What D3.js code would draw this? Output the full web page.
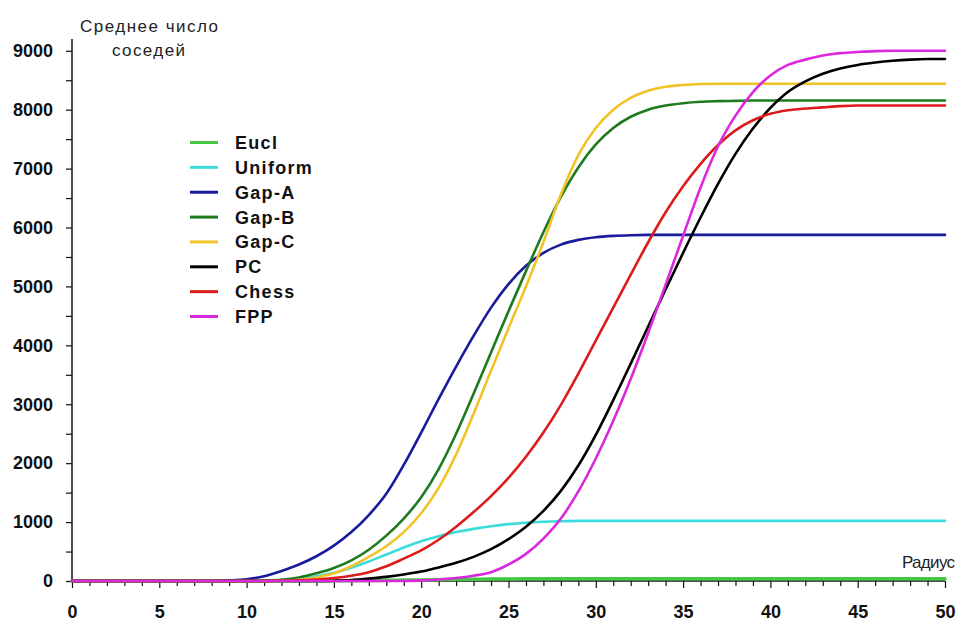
<!DOCTYPE html>
<html>
<head>
<meta charset="utf-8">
<script src="https://cdn.jsdelivr.net/npm/d3@7"></script>
<style>
  html, body { margin: 0; padding: 0; background: #fff; }
  svg { display: block; }
  text { font-family: "Liberation Sans", Arial, sans-serif; }
</style>
</head>
<body>
<svg id="chart" width="968" height="621"></svg>
<script>
// ---- data ----
const radii = d3.range(0, 51);
const seriesNames = ["Eucl", "Uniform", "Gap-A", "Gap-B", "Gap-C", "PC", "Chess", "FPP"];
const seriesColors = ["#44c844", "#3ddcdc", "#1a1a9c", "#1e7a1e", "#f0c428", "#000000", "#dc1c1c", "#dc28dc"];

const eucl = [0,0,0,0,0,0,0,0,0,0, 0,0,0,0,0,3,5,8,11,15, 19,23,27,30,33,35,37,38,39,40,
  40,40,40,40,40,40,40,40,40,40, 40,40,40,40,40,40,40,40,40,40, 40];
const uniform = [0,0,0,0,0,0,0,0,0,0, 0,0,15,40,80,140,225,330,450,570, 675,760,830,885,930,965,990,1005,1015,1020,
  1020,1020,1020,1020,1020,1020,1020,1020,1020,1020, 1020,1020,1020,1020,1020,1020,1020,1020,1020,1020, 1020];
const gapA = [0,0,0,0,0,0,0,0,0,10, 30,80,170,280,420,600,830,1120,1480,1970, 2520,3090,3640,4160,4640,5040,5350,5570,5710,5790,
  5835,5858,5870,5875,5875,5875,5875,5875,5875,5875, 5875,5875,5875,5875,5875,5875,5875,5875,5875,5875, 5875];
const gapB = [0,0,0,0,0,0,0,0,0,0, 0,5,20,60,130,220,350,530,770,1060, 1420,1900,2500,3180,3880,4580,5260,5920,6520,7020,
  7410,7690,7880,8000,8070,8110,8135,8145,8150,8155, 8155,8155,8155,8155,8155,8155,8155,8155,8155,8155, 8155];
const gapC = [0,0,0,0,0,0,0,0,0,0, 0,0,5,20,60,130,250,410,590,830, 1150,1580,2150,2840,3570,4290,5000,5750,6560,7230,
  7690,8000,8200,8320,8390,8420,8435,8440,8440,8440, 8440,8440,8440,8440,8440,8440,8440,8440,8440,8440, 8440];
const pc = [0,0,0,0,0,0,0,0,0,0, 0,0,0,0,0,5,15,40,70,110, 160,230,310,410,540,710,920,1190,1530,1960,
  2480,3070,3690,4320,4950,5570,6170,6740,7250,7680, 8030,8300,8480,8610,8700,8760,8800,8830,8850,8860, 8860];
const chess = [0,0,0,0,0,0,0,0,0,0, 0,0,5,10,25,50,90,150,250,380, 520,700,920,1170,1440,1750,2110,2520,2990,3520,
  4080,4640,5200,5750,6260,6700,7080,7400,7650,7820, 7930,7990,8020,8040,8060,8070,8070,8070,8070,8070, 8070];
const fpp = [0,0,0,0,0,0,0,0,0,0, 0,0,0,0,0,0,0,0,0,0, 10,25,50,90,150,280,460,720,1060,1520,
  2080,2720,3430,4210,5030,5860,6680,7380,7900,8300, 8580,8760,8850,8920,8960,8980,8995,9000,9000,9000, 9000];

const seriesValues = [eucl, uniform, gapA, gapB, gapC, pc, chess, fpp];

const yTickValues = d3.range(0, 9001, 500);
const xTickValues = d3.range(0, 51, 1);
const yTitleLines = ["Среднее число", "соседей"];
const xTitle = "Радиус";

// ---- chart ----
const svg = d3.select("#chart");
const x = d3.scaleLinear().domain([0, 50]).range([72, 945]);
const y = d3.scaleLinear().domain([0, 9200]).range([581, 39]);

// axes
const yAxis = d3.axisLeft(y)
  .tickValues(yTickValues)
  .tickSize(6)
  .tickPadding(13)
  .tickFormat(d => d % 1000 === 0 ? String(d) : "");
const gy = svg.append("g").attr("transform", `translate(${x(0)},0)`).call(yAxis);
gy.select(".domain").attr("d", `M0,${y(0)}V${y(9200)}`).attr("stroke", "#111").attr("stroke-width", 1.5);
gy.selectAll(".tick line").attr("stroke", "#111").attr("stroke-width", 1.2);
gy.selectAll(".tick text")
  .attr("font-size", 18).attr("font-weight", "bold").attr("fill", "#111")
  .style("font-family", '"Liberation Sans", Arial, sans-serif');

const xAxis = d3.axisBottom(x)
  .tickValues(xTickValues)
  .tickSize(7)
  .tickPadding(17)
  .tickFormat(d => d % 5 === 0 ? String(d) : "");
const gx = svg.append("g").attr("transform", `translate(0,${y(0)})`).call(xAxis);
gx.select(".domain").attr("d", `M${x(0)},0H${x(50)}`).attr("stroke", "#111").attr("stroke-width", 1.5);
gx.selectAll(".tick line").attr("stroke", "#111").attr("stroke-width", 1.2)
  .attr("y2", d => d % 5 === 0 ? 7 : 5);
gx.selectAll(".tick text")
  .attr("font-size", 18).attr("font-weight", "bold").attr("fill", "#111")
  .style("font-family", '"Liberation Sans", Arial, sans-serif');

// titles
svg.append("text").attr("x", 80).attr("y", 32)
  .attr("font-size", 17).attr("fill", "#222")
  .attr("textLength", 138).attr("lengthAdjust", "spacing")
  .text(yTitleLines[0]);
svg.append("text").attr("x", 112).attr("y", 56)
  .attr("font-size", 17).attr("fill", "#222")
  .attr("textLength", 73).attr("lengthAdjust", "spacing")
  .text(yTitleLines[1]);
svg.append("text").attr("x", 902).attr("y", 568)
  .attr("font-size", 17).attr("fill", "#222")
  .attr("textLength", 53).attr("lengthAdjust", "spacing")
  .text(xTitle);

// lines
const line = d3.line()
  .x((d, i) => x(radii[i]))
  .y(d => y(d))
  .curve(d3.curveMonotoneX);

svg.append("g").selectAll("path")
  .data(seriesValues)
  .join("path")
  .attr("d", d => line(d))
  .attr("fill", "none")
  .attr("stroke", (d, i) => seriesColors[i])
  .attr("stroke-width", (d, i) => i === 0 ? 3.5 : 2.6)
  .attr("stroke-linejoin", "round")
  .attr("stroke-linecap", "round");

// legend
const legend = svg.append("g");
const lg = legend.selectAll("g")
  .data(seriesNames)
  .join("g")
  .attr("transform", (d, i) => `translate(0,${149 + i * 24.86})`);
lg.append("line")
  .attr("x1", 190).attr("x2", 218)
  .attr("y1", -6.5).attr("y2", -6.5)
  .attr("stroke", (d, i) => seriesColors[i])
  .attr("stroke-width", 3);
lg.append("text")
  .attr("x", 235).attr("y", 0)
  .attr("font-size", 18).attr("font-weight", "bold").attr("fill", "#111")
  .attr("letter-spacing", 1.3)
  .text(d => d);
</script>
</body>
</html>
